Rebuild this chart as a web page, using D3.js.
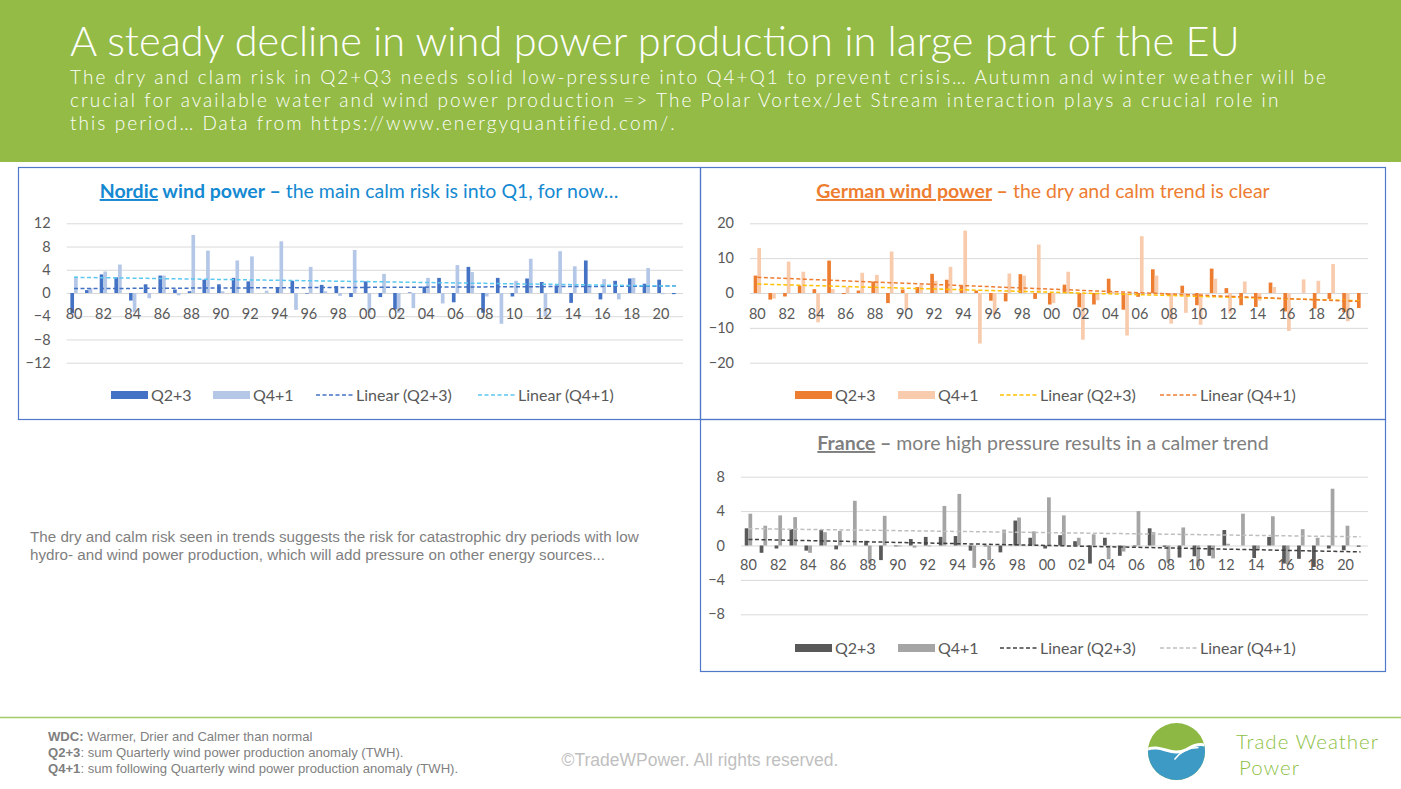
<!DOCTYPE html>
<html>
<head>
<meta charset="utf-8">
<script src="https://cdn.jsdelivr.net/npm/d3@7"></script>
<style>
body { margin: 0; background: #fff; }
svg { display: block; }
</style>
</head>
<body>
<div id="canvas"></div>
<script>
var width = 1401;
var height = 789;

// categories (years) and every-other-year tick labels
const years = [1980,1981,1982,1983,1984,1985,1986,1987,1988,1989,1990,1991,1992,1993,1994,1995,1996,1997,1998,1999,
               2000,2001,2002,2003,2004,2005,2006,2007,2008,2009,2010,2011,2012,2013,2014,2015,2016,2017,2018,2019,2020,2021];
const yearTicks = [1980,1982,1984,1986,1988,1990,1992,1994,1996,1998,2000,2002,2004,2006,2008,2010,2012,2014,2016,2018,2020];

// Nordic wind power anomaly (TWh)
const nordicQ23 = [-3.5,0.5,3.2,2.7,-1.3,1.5,3.0,0.6,0.3,2.3,1.5,2.6,2.0,0.0,1.0,2.1,-0.1,1.4,1.2,-0.7,
                   2.0,-0.7,-2.8,0.1,1.1,2.6,-1.6,4.5,-3.4,2.6,-0.6,2.5,1.9,1.3,-1.7,5.6,-1.1,2.1,2.5,1.6,2.3,-0.2];
const nordicQ41 = [2.8,0.8,3.7,4.9,-3.3,-0.9,3.0,-0.4,10.0,7.3,0.3,5.6,6.3,0.4,8.9,-2.9,4.5,0.3,-0.5,7.4,
                   -3.4,3.3,-3.4,-2.6,2.6,-1.8,4.8,3.6,-0.6,-5.3,2.1,5.9,-4.0,7.2,4.6,1.1,2.4,-1.1,2.6,4.3,-0.2,null];

// German wind power anomaly (TWh)
const germanQ23 = [5.0,-1.9,-1.0,2.1,1.1,9.3,-0.3,0.7,3.3,-2.9,1.0,1.7,5.5,3.8,2.1,0.7,-2.2,-2.4,5.4,-1.7,
                   -3.3,2.4,-4.1,-3.3,4.1,-4.8,-1.1,6.8,-0.5,2.1,-3.5,7.0,1.4,-3.5,-4.0,3.0,-5.3,0.0,-4.5,-1.7,-5.5,-4.3];
const germanQ41 = [12.9,-1.6,9.0,6.1,-8.4,1.1,1.7,5.8,5.2,11.9,-4.8,2.4,3.5,7.5,17.9,-14.5,-6.3,5.6,5.0,13.9,
                   -2.9,6.1,-13.4,-2.1,0.4,-12.2,16.3,5.0,-8.8,-5.7,-9.1,4.1,-5.9,3.3,-2.2,1.7,-10.9,3.9,3.5,8.3,-8.1,null];

// France wind power anomaly (TWh)
const franceQ23 = [2.0,-0.85,-0.35,1.9,-0.6,1.8,-0.45,0.0,0.55,-1.7,-0.1,0.75,1.0,1.0,1.1,-0.6,-0.1,-0.8,2.9,0.9,
                   -0.35,1.2,0.5,-2.1,0.9,-1.2,-0.1,2.0,-0.15,-1.4,-1.25,-1.2,1.8,0.0,-1.45,1.0,-2.1,-1.55,-2.5,-0.35,-0.55,-0.15];
const franceQ41 = [3.7,2.3,3.5,3.3,-0.85,1.55,1.7,5.2,-2.1,3.45,-0.1,-0.25,-0.1,4.6,6.0,-2.6,-1.7,1.85,3.25,1.65,
                   5.6,3.5,0.9,1.3,-1.6,-0.7,4.0,1.55,-2.0,2.1,-2.4,-1.5,0.2,3.7,-0.5,3.4,-2.2,1.9,0.9,6.6,2.3,null];

const nordicTicks = [-12,-8,-4,0,4,8,12];
const germanTicks = [-20,-10,0,10,20];
const franceTicks = [-8,-4,0,4,8];

const seriesNames = ["Q2+3", "Q4+1", "Linear (Q2+3)", "Linear (Q4+1)"];

var svg = d3.select("#canvas").append("svg")
    .attr("width", width)
    .attr("height", height)
    .style("background-color", "white");

const chartFont = "Lato, 'Open Sans', sans-serif";
const arial = "'Liberation Sans', Arial, sans-serif";

// shrink/grow a text so that it spans a given width
function fitWidth(sel, target) {
    const w = sel.node().getComputedTextLength();
    const fs = parseFloat(sel.attr("font-size"));
    sel.attr("font-size", (fs * target / w).toFixed(2));
    return fs * target / w;
}

// keep the glyph size, spread letters to a given width
function spreadTo(sel, target, str) {
    const w = sel.node().getComputedTextLength();
    sel.attr("letter-spacing", ((target - w) / (str.length - 1)).toFixed(3));
}

// ---------- header ----------
svg.append("rect").attr("x", 0).attr("y", 0).attr("width", width).attr("height", 162).attr("fill", "#93BB46");

const headFont = "Lato, 'Noto Sans', sans-serif";
const title = svg.append("text")
    .attr("x", 70).attr("y", 56)
    .attr("font-family", headFont).attr("font-weight", 300)
    .attr("font-size", 36).attr("fill", "white")
    .text("A steady decline in wind power production in large part of the EU");
fitWidth(title, 1170);

const subLines = [
    "The dry and clam risk in Q2+Q3 needs solid low-pressure into Q4+Q1 to prevent crisis\u2026 Autumn and winter weather will be",
    "crucial for available water and wind power production => The Polar Vortex/Jet Stream interaction plays a crucial role in",
    "this period\u2026 Data from https://www.energyquantified.com/."
];
const sub = svg.append("g").selectAll("text").data(subLines).enter().append("text")
    .attr("x", 70).attr("y", (d, i) => 84 + i * 23)
    .attr("font-family", headFont).attr("font-weight", 300)
    .attr("font-size", 19).attr("fill", "white")
    .text(d => d);
const first = d3.select(sub.nodes()[0]);
spreadTo(first, 1256, subLines[0]);
sub.attr("letter-spacing", first.attr("letter-spacing"));

// ---------- panel boxes ----------
const boxColor = "#4F78C8";
svg.append("rect").attr("x", 18.5).attr("y", 167.5).attr("width", 682).attr("height", 252)
    .attr("fill", "none").attr("stroke", boxColor).attr("stroke-width", 1.2);
svg.append("rect").attr("x", 700.5).attr("y", 167.5).attr("width", 685).attr("height", 252)
    .attr("fill", "none").attr("stroke", boxColor).attr("stroke-width", 1.2);
svg.append("rect").attr("x", 700.5).attr("y", 419.5).attr("width", 685).attr("height", 252)
    .attr("fill", "none").attr("stroke", boxColor).attr("stroke-width", 1.2);

// least squares trend over category index
function linearFit(values) {
    const pts = values.map((v, i) => [i + 1, v]).filter(p => p[1] !== null);
    const mx = d3.mean(pts, p => p[0]);
    const my = d3.mean(pts, p => p[1]);
    const slope = d3.sum(pts, p => (p[0] - mx) * (p[1] - my)) / d3.sum(pts, p => (p[0] - mx) * (p[0] - mx));
    return years.map((y, i) => ({ year: y, v: my + slope * (i + 1 - mx) }));
}

function drawPanel(cfg) {
    const g = svg.append("g");

    const x = d3.scaleBand().domain(years).range([cfg.left, cfg.right]);
    const bw = x.bandwidth();
    const xSub = d3.scaleBand().domain([0, 1]).range([bw * 0.25, bw * 0.75]);
    const y = d3.scaleLinear().domain(cfg.domain).range([cfg.bottom, cfg.top]);

    // gridlines + value labels
    const yAxis = g.append("g")
        .attr("transform", `translate(${cfg.left},0)`)
        .call(d3.axisLeft(y).tickValues(cfg.ticks).tickSize(-(cfg.right - cfg.left)).tickPadding(16).tickFormat(d3.format("d")));
    yAxis.select(".domain").remove();
    yAxis.selectAll(".tick line").attr("stroke", "#D9D9D9");
    yAxis.selectAll(".tick text").attr("fill", "#595959").attr("font-size", 14.5).attr("font-family", chartFont);

    // bars
    const series = [cfg.q23, cfg.q41];
    series.forEach((vals, si) => {
        g.append("g").selectAll("rect")
            .data(years.map((yr, i) => ({ year: yr, v: vals[i] })).filter(d => d.v !== null))
            .enter().append("rect")
            .attr("x", d => x(d.year) + xSub(si))
            .attr("width", xSub.bandwidth())
            .attr("y", d => y(Math.max(0, d.v)))
            .attr("height", d => Math.abs(y(d.v) - y(0)))
            .attr("fill", cfg.barColors[si]);
    });

    // category labels next to the zero line
    const xAxis = g.append("g")
        .attr("transform", `translate(0,${y(0)})`)
        .call(d3.axisBottom(x).tickValues(yearTicks).tickSize(0).tickPadding(cfg.labelPad)
            .tickFormat(d => String(d).slice(2)));
    xAxis.select(".domain").remove();
    xAxis.selectAll(".tick text").attr("fill", "#595959").attr("font-size", 14.5).attr("font-family", chartFont);

    // trend lines
    const line = d3.line().x(d => x(d.year) + bw / 2).y(d => y(d.v));
    [cfg.q23, cfg.q41].forEach((vals, si) => {
        g.append("path")
            .datum(linearFit(vals))
            .attr("d", line)
            .attr("fill", "none")
            .attr("stroke", cfg.trendColors[si])
            .attr("stroke-width", 1.5)
            .attr("stroke-dasharray", "4,2.5");
    });

    // title
    const t = g.append("text")
        .attr("x", cfg.titleX).attr("y", cfg.titleY)
        .attr("text-anchor", "middle")
        .attr("font-family", chartFont).attr("font-size", 19.5)
        .attr("fill", cfg.titleColor);
    t.append("tspan").attr("font-weight", "bold").attr("text-decoration", "underline").text(cfg.titleParts[0]);
    t.append("tspan").attr("font-weight", "bold").text(cfg.titleParts[1]);
    t.append("tspan").text(cfg.titleParts[2]);

    // legend
    const lg = g.append("g").attr("transform", `translate(0,${cfg.legendY})`);
    const lx = cfg.legendX;
    lg.append("rect").attr("x", lx[0]).attr("y", -4).attr("width", 37).attr("height", 8).attr("fill", cfg.barColors[0]);
    lg.append("rect").attr("x", lx[1]).attr("y", -4).attr("width", 37).attr("height", 8).attr("fill", cfg.barColors[1]);
    lg.append("line").attr("x1", lx[2]).attr("x2", lx[2] + 37).attr("stroke", cfg.trendColors[0])
        .attr("stroke-width", 1.5).attr("stroke-dasharray", "4,2.5");
    lg.append("line").attr("x1", lx[3]).attr("x2", lx[3] + 37).attr("stroke", cfg.trendColors[1])
        .attr("stroke-width", 1.5).attr("stroke-dasharray", "4,2.5");
    lg.selectAll("text.lab").data(seriesNames).enter().append("text")
        .attr("x", (d, i) => lx[i] + 40).attr("y", 0).attr("dy", "0.35em")
        .attr("font-family", chartFont).attr("font-size", 16).attr("fill", "#595959")
        .text(d => d);
}

drawPanel({
    left: 66.7, right: 683, top: 223.3, bottom: 362.7, domain: [-12, 12], ticks: nordicTicks,
    q23: nordicQ23, q41: nordicQ41, labelPad: 16,
    barColors: ["#4472C4", "#B4C7E7"], trendColors: ["#4472C4", "#5BC8F0"],
    titleParts: ["Nordic", " wind power \u2013", " the main calm risk is into Q1, for now\u2026"],
    titleColor: "#1589D1", titleX: 359, titleY: 198,
    legendY: 395, legendX: [111, 213, 316, 478]
});

drawPanel({
    left: 750, right: 1368, top: 223.3, bottom: 362.7, domain: [-20, 20], ticks: germanTicks,
    q23: germanQ23, q41: germanQ41, labelPad: 16,
    barColors: ["#ED7D31", "#F8CBAD"], trendColors: ["#FFC000", "#ED7D31"],
    titleParts: ["German wind power", " \u2013", " the dry and calm trend is clear"],
    titleColor: "#ED7D31", titleX: 1043, titleY: 198,
    legendY: 395, legendX: [795, 898, 1000, 1160]
});

drawPanel({
    left: 741, right: 1368, top: 476.7, bottom: 614.3, domain: [-8, 8], ticks: franceTicks,
    q23: franceQ23, q41: franceQ41, labelPad: 14,
    barColors: ["#595959", "#A5A5A5"], trendColors: ["#404040", "#BFBFBF"],
    titleParts: ["France", " \u2013", " more high pressure results in a calmer trend"],
    titleColor: "#7F7F7F", titleX: 1043, titleY: 450,
    legendY: 648, legendX: [795, 898, 1000, 1160]
});

// ---------- middle note ----------
const noteLines = [
    "The dry and calm risk seen in trends suggests the risk for catastrophic dry periods with low",
    "hydro- and wind power production, which will add pressure on other energy sources..."
];
svg.append("g").selectAll("text").data(noteLines).enter().append("text")
    .attr("x", 30).attr("y", (d, i) => 542 + i * 18)
    .attr("font-family", arial).attr("font-size", 15.2)
    .attr("fill", "#7F7F7F")
    .text(d => d);

// ---------- footer ----------
svg.append("line").attr("x1", 0).attr("x2", width).attr("y1", 717.5).attr("y2", 717.5)
    .attr("stroke", "#A5CC6B").attr("stroke-width", 1.5);

const footLines = [
    ["WDC:", " Warmer, Drier and Calmer than normal"],
    ["Q2+3", ": sum Quarterly wind power production anomaly (TWH)."],
    ["Q4+1", ": sum following Quarterly wind power production anomaly (TWH)."]
];
const ft = svg.append("g").selectAll("text").data(footLines).enter().append("text")
    .attr("x", 48).attr("y", (d, i) => 741 + i * 16)
    .attr("font-family", arial).attr("font-size", 13.1)
    .attr("fill", "#7F7F7F");
ft.append("tspan").attr("font-weight", "bold").text(d => d[0]);
ft.append("tspan").text(d => d[1]);

svg.append("text").attr("x", 700).attr("y", 766).attr("text-anchor", "middle")
    .attr("font-family", arial).attr("font-size", 17.5)
    .attr("fill", "#BFBFBF").text("\u00A9TradeWPower. All rights reserved.");

// logo
const logo = svg.append("g").attr("transform", "translate(1176.5,751.5)");
logo.append("clipPath").attr("id", "logoClip").append("circle").attr("r", 28.5);
const lc = logo.append("g").attr("clip-path", "url(#logoClip)");
lc.append("rect").attr("x", -30).attr("y", -30).attr("width", 60).attr("height", 60).attr("fill", "#8DB843");
lc.append("path").attr("d", "M-30,-2 C-15,-8 -5,6 10,-2 C18,-7 24,-8 30,-6 L30,30 L-30,30 Z").attr("fill", "#3C9AC4");
lc.append("path").attr("d", "M-30,-2 C-15,-8 -5,6 10,-2 C18,-7 24,-8 30,-6").attr("fill", "none")
    .attr("stroke", "white").attr("stroke-width", 3);
lc.append("path").attr("d", "M-2,8 C4,0 12,-4 22,-4").attr("fill", "none")
    .attr("stroke", "white").attr("stroke-width", 1.5);

const brand1 = svg.append("text").attr("x", 1236).attr("y", 749)
    .attr("font-family", headFont).attr("font-weight", 300).attr("font-size", 20.5)
    .attr("fill", "#8DBF45").text("Trade Weather");
spreadTo(brand1, 142, "Trade Weather");
svg.append("text").attr("x", 1239).attr("y", 775)
    .attr("font-family", headFont).attr("font-weight", 300).attr("font-size", 20.5)
    .attr("letter-spacing", brand1.attr("letter-spacing"))
    .attr("fill", "#8DBF45").text("Power");
</script>
</body>
</html>
